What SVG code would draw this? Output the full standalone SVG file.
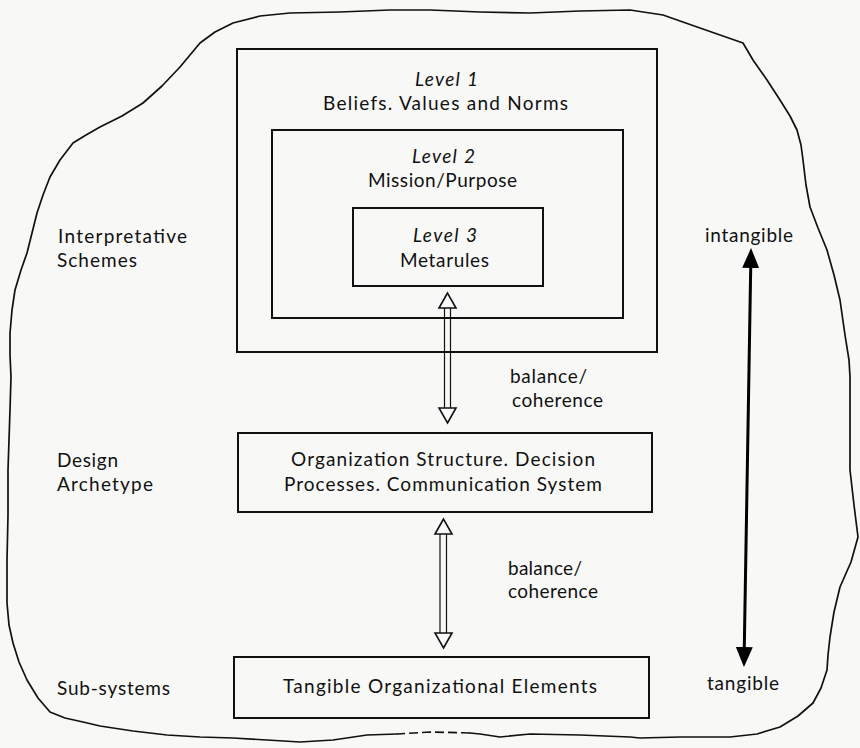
<svg xmlns="http://www.w3.org/2000/svg" width="860" height="748" viewBox="0 0 860 748">
  <defs>
    <style>
      .bg { fill: #f8f8f7; }
      .outline { fill: none; stroke: #111; stroke-width: 1.7; stroke-linejoin: round; stroke-linecap: round; }
      .broken { stroke-dasharray: 9 4; stroke-linecap: butt; }
      .box { fill: none; stroke: #111; stroke-width: 2; }
      .lbl { font-family: Lato, "Open Sans", "Liberation Sans", sans-serif; font-size: 19px; fill: #111; }
      .lvl { font-style: italic; }
      .shaft { fill: none; stroke: #111; stroke-width: 1.2; }
      .hhead { fill: #fafafa; stroke: #111; stroke-width: 1.6; stroke-linejoin: miter; }
      .axis { fill: none; stroke: #000; stroke-width: 3; }
    </style>
    <!-- hollow triangular head, tip at origin, pointing up -->
    <path id="hollowHead" class="hhead" d="M0,0 L-8.5,15 L8.5,15 Z"/>
    <!-- solid head, base at the line end -->
    <marker id="solidHead" viewBox="0 0 20 17" refX="0" refY="8.5" markerWidth="20" markerHeight="17" orient="auto-start-reverse" markerUnits="userSpaceOnUse">
      <path d="M0,0 L20,8.5 L0,17 Z" fill="#000"/>
    </marker>
  </defs>

  <rect class="bg" x="0" y="0" width="860" height="748"/>

  <!-- freehand boundary of the organization -->
  <g id="boundary">
    <polyline class="outline" points="397,734 367,735 333,740 300,742 267,740 233,738 200,737 167,735 133,731 100,726 83,722 65,718 50,712 38,698 27,680 19,662 13,643 9,625 7,603 7,560 8,515 8,470 9,440 10,410 11,377 10,355 10,333 12,310 15,290 21,270 27,253 32,233 37,213 43,195 50,177 60,160 73,143 86,135 100,127 122,116 143,103 162,86 180,67 190,55 200,43 215,32 233,23 260,16 290,13 340,12 390,10 430,10 480,12 530,13 580,11 630,10 663,15 700,28 743,43 753,60 767,80 780,100 790,116 797,130 801,145 803,160 806,185 810,207 818,228 827,250 834,275 840,300 845,335 849,360 850,377 850,420 850,470 854,505 858,537 851,562 840,587 834,612 830,637 828,655 827,670 821,688 813,703 798,716 780,727 757,734 730,737 680,737 640,738 630,737 580,735 530,734 500,737 480,734 470,733"/>
    <polyline class="outline broken" points="470,733 430,732 397,734"/>
  </g>

  <!-- left-hand row labels -->
  <g id="label-interpretative">
    <text class="lbl" x="58" y="243" textLength="129" lengthAdjust="spacing">Interpretative</text>
    <text class="lbl" x="57" y="267" textLength="80" lengthAdjust="spacing">Schemes</text>
  </g>
  <g id="label-design">
    <text class="lbl" x="57" y="467" textLength="61" lengthAdjust="spacing">Design</text>
    <text class="lbl" x="57" y="491" textLength="96" lengthAdjust="spacing">Archetype</text>
  </g>
  <g id="label-subsystems">
    <text class="lbl" x="57" y="695" textLength="113" lengthAdjust="spacing">Sub-systems</text>
  </g>

  <!-- nested levels of interpretative schemes -->
  <g id="level1">
    <rect class="box" x="237" y="49" width="420" height="303"/>
    <text class="lbl lvl" x="415" y="86" textLength="63" lengthAdjust="spacing">Level 1</text>
    <text class="lbl" x="323" y="110" textLength="245" lengthAdjust="spacing">Beliefs. Values and Norms</text>
  </g>
  <g id="level2">
    <rect class="box" x="272" y="130" width="351" height="188"/>
    <text class="lbl lvl" x="412" y="163" textLength="63" lengthAdjust="spacing">Level 2</text>
    <text class="lbl" x="368" y="187" textLength="149" lengthAdjust="spacing">Mission/Purpose</text>
  </g>
  <g id="level3">
    <rect class="box" x="353" y="208" width="190" height="78"/>
    <text class="lbl lvl" x="413" y="242" textLength="64" lengthAdjust="spacing">Level 3</text>
    <text class="lbl" x="400" y="267" textLength="89" lengthAdjust="spacing">Metarules</text>
  </g>

  <g id="design-archetype">
    <rect class="box" x="238" y="433" width="414" height="79"/>
    <text class="lbl" x="291" y="466" textLength="304" lengthAdjust="spacing">Organization Structure. Decision</text>
    <text class="lbl" x="284" y="491" textLength="318" lengthAdjust="spacing">Processes. Communication System</text>
  </g>

  <g id="sub-systems">
    <rect class="box" x="234" y="657" width="415" height="61"/>
    <text class="lbl" x="283" y="693" textLength="314" lengthAdjust="spacing">Tangible Organizational Elements</text>
  </g>

  <!-- connectors -->
  <g id="connectors">
    <!-- level 3 <-> design archetype -->
    <g id="link-upper">
      <path class="shaft" d="M444.5,307 V410 M450.5,307 V410"/>
      <use href="#hollowHead" transform="translate(447.5,293)"/>
      <use href="#hollowHead" transform="translate(447.5,423) rotate(180)"/>
    </g>
    <!-- design archetype <-> sub-systems -->
    <g id="link-lower">
      <path class="shaft" d="M440,533 V634 M446.5,533 V634"/>
      <use href="#hollowHead" transform="translate(443.5,519)"/>
      <use href="#hollowHead" transform="translate(443.5,648) rotate(180)"/>
    </g>
    <!-- intangible / tangible scale -->
    <g id="scale">
      <path class="axis" d="M750.7,268 L744.3,647" marker-start="url(#solidHead)" marker-end="url(#solidHead)"/>
    </g>
  </g>

  <g id="label-balance-1">
    <text class="lbl" x="510" y="383" textLength="77" lengthAdjust="spacing">balance/</text>
    <text class="lbl" x="512" y="407" textLength="91" lengthAdjust="spacing">coherence</text>
  </g>
  <g id="label-balance-2">
    <text class="lbl" x="508" y="575" textLength="74" lengthAdjust="spacing">balance/</text>
    <text class="lbl" x="508" y="598" textLength="90" lengthAdjust="spacing">coherence</text>
  </g>
  <g id="label-intangible">
    <text class="lbl" x="705" y="242" textLength="88" lengthAdjust="spacing">intangible</text>
  </g>
  <g id="label-tangible">
    <text class="lbl" x="707" y="690" textLength="72" lengthAdjust="spacing">tangible</text>
  </g>
</svg>
